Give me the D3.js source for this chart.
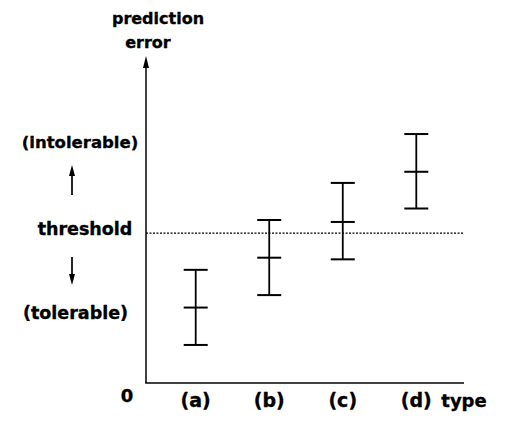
<!DOCTYPE html>
<html>
<head>
<meta charset="utf-8">
<script src="https://cdn.jsdelivr.net/npm/d3@7"></script>
<style>
  body { margin: 0; background: #fff; }
  svg text { font-family: "DejaVu Sans", sans-serif; font-weight: bold; fill: #000; stroke: #000; stroke-width: 0.35px; }
</style>
</head>
<body>
<div id="chartDiv"></div>
<script>
// categories and estimated values (0..100 arbitrary error scale)
var categories = ["(a)", "(b)", "(c)", "(d)"];
var meanVals = [23.0, 38.2, 49.1, 64.4];
var lowVals  = [11.6, 26.8, 37.7, 53.2];
var highVals = [34.5, 49.7, 61.0, 75.9];
var thresholdVal = 45.7;

;(function() {
	var width = 529, height = 439;
	var axisLeft = 146, axisRight = 464, axisBottom = 383, axisTop = 56;
	var capHalf = 12;

	var svg = d3.select("#chartDiv").append("svg")
		.attr("width", width)
		.attr("height", height);

	var xScale = d3.scalePoint()
		.domain(categories)
		.range([195.7, 416.3]);

	var yScale = d3.scaleLinear()
		.domain([0, 100])
		.range([axisBottom, 55]);

	// axes
	svg.append("line")
		.attr("x1", axisLeft).attr("x2", axisLeft)
		.attr("y1", axisBottom).attr("y2", axisTop + 8)
		.attr("stroke", "#000").attr("stroke-width", 1.5);
	svg.append("path")
		.attr("d", "M" + axisLeft + "," + axisTop + " L" + (axisLeft - 3) + "," + (axisTop + 12) + " L" + (axisLeft + 3) + "," + (axisTop + 12) + "Z")
		.attr("fill", "#000");
	svg.append("line")
		.attr("x1", axisLeft - 0.75).attr("x2", axisRight)
		.attr("y1", axisBottom).attr("y2", axisBottom)
		.attr("stroke", "#000").attr("stroke-width", 1.5);

	// threshold
	svg.append("line")
		.attr("x1", axisLeft).attr("x2", 463)
		.attr("y1", yScale(thresholdVal)).attr("y2", yScale(thresholdVal))
		.attr("stroke", "#000").attr("stroke-width", 1.3)
		.attr("stroke-dasharray", "2,1.5");

	// error bars
	var bars = svg.append("g").selectAll("g.bar")
		.data(categories)
		.enter().append("g").attr("class", "bar");

	bars.append("line")
		.attr("x1", function(d) { return xScale(d); })
		.attr("x2", function(d) { return xScale(d); })
		.attr("y1", function(d, i) { return yScale(lowVals[i]); })
		.attr("y2", function(d, i) { return yScale(highVals[i]); })
		.attr("stroke", "#000").attr("stroke-width", 1.8);

	[lowVals, meanVals, highVals].forEach(function(arr) {
		bars.append("line")
			.attr("x1", function(d) { return xScale(d) - capHalf; })
			.attr("x2", function(d) { return xScale(d) + capHalf; })
			.attr("y1", function(d, i) { return yScale(arr[i]); })
			.attr("y2", function(d, i) { return yScale(arr[i]); })
			.attr("stroke", "#000").attr("stroke-width", 2);
	});

	// category labels
	svg.selectAll("text.cat")
		.data(categories)
		.enter().append("text")
		.attr("class", "cat")
		.attr("x", function(d) { return xScale(d); })
		.attr("y", 407)
		.attr("text-anchor", "middle")
		.style("font-size", "19px")
		.text(function(d) { return d; });

	svg.append("text").attr("x", 464).attr("y", 407).attr("text-anchor", "middle")
		.style("font-size", "18px").text("type");
	svg.append("text").attr("x", 127).attr("y", 402).attr("text-anchor", "middle")
		.style("font-size", "18px").text("0");

	// y axis title
	svg.append("text").attr("x", 158).attr("y", 24).attr("text-anchor", "middle")
		.style("font-size", "16px").text("prediction");
	svg.append("text").attr("x", 148).attr("y", 48).attr("text-anchor", "middle")
		.style("font-size", "16px").text("error");

	// side labels
	svg.append("text").attr("x", 80).attr("y", 148).attr("text-anchor", "middle")
		.style("font-size", "16.5px").text("(intolerable)");
	svg.append("text").attr("x", 85).attr("y", 235).attr("text-anchor", "middle")
		.style("font-size", "17.5px").text("threshold");
	svg.append("text").attr("x", 75.5).attr("y", 319).attr("text-anchor", "middle")
		.style("font-size", "17.5px").text("(tolerable)");

	// small arrows
	function smallArrow(x, yFrom, yTo) {
		var dir = yTo < yFrom ? 1 : -1;
		svg.append("line")
			.attr("x1", x).attr("x2", x)
			.attr("y1", yFrom).attr("y2", yTo + dir * 8)
			.attr("stroke", "#000").attr("stroke-width", 1.7);
		svg.append("path")
			.attr("d", "M" + x + "," + yTo + " L" + (x - 3) + "," + (yTo + dir * 11) + " L" + (x + 3) + "," + (yTo + dir * 11) + "Z")
			.attr("fill", "#000");
	}
	smallArrow(72, 195, 165);
	smallArrow(72, 257, 285);
})();
</script>
</body>
</html>
